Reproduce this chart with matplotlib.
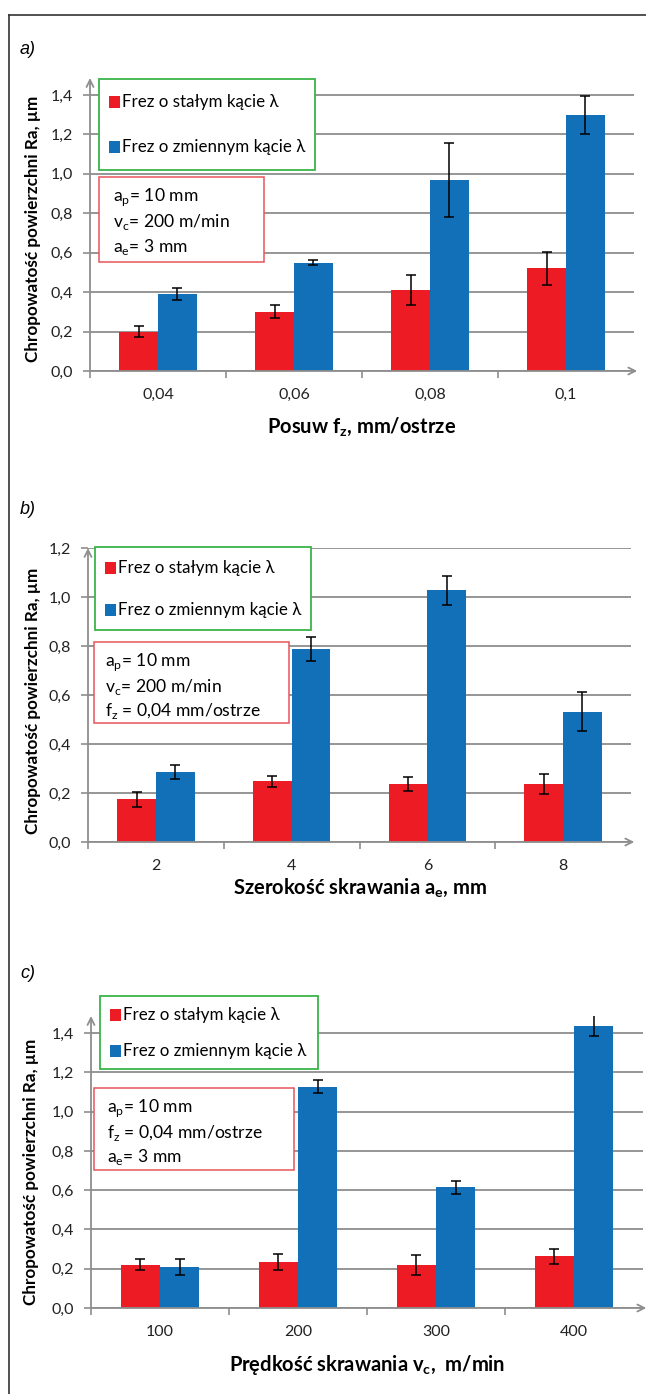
import numpy as np
import matplotlib
matplotlib.use("Agg")
import matplotlib.pyplot as plt
from matplotlib.patches import Rectangle
from matplotlib.lines import Line2D

plt.rcParams['font.family'] = ['Lato', 'DejaVu Sans']

# data
series_names = ['Frez o stałym kącie λ', 'Frez o zmiennym kącie λ']

a_cats = ['0,04', '0,06', '0,08', '0,1']
a_red = [0.20, 0.30, 0.41, 0.52]
a_red_err = [0.030, 0.033, 0.077, 0.082]
a_blue = [0.39, 0.55, 0.97, 1.30]
a_blue_err = [0.032, 0.014, 0.187, 0.096]

b_cats = ['2', '4', '6', '8']
b_red = [0.175, 0.247, 0.236, 0.236]
b_red_err = [0.031, 0.024, 0.029, 0.040]
b_blue = [0.286, 0.787, 1.027, 0.532]
b_blue_err = [0.029, 0.049, 0.060, 0.080]

c_cats = ['100', '200', '300', '400']
c_red = [0.221, 0.234, 0.221, 0.263]
c_red_err = [0.026, 0.041, 0.051, 0.039]
c_blue = [0.207, 1.127, 0.616, 1.437]
c_blue_err = [0.040, 0.032, 0.033, 0.053]

ylabel = 'Chropowatość powierzchni Ra, µm'
a_xlabel = r'Posuw f$_\mathregular{z}$, mm/ostrze'
b_xlabel = r'Szerokość skrawania a$_\mathregular{e}$, mm'
c_xlabel = r'Prędkość skrawania v$_\mathregular{c}$,  m/min'
a_note = [r'a$_\mathregular{p}$= 10 mm', r'v$_\mathregular{c}$= 200 m/min', r'a$_\mathregular{e}$= 3 mm']
b_note = [r'a$_\mathregular{p}$= 10 mm', r'v$_\mathregular{c}$= 200 m/min', r'f$_\mathregular{z}$ = 0,04 mm/ostrze']
c_note = [r'a$_\mathregular{p}$= 10 mm', r'f$_\mathregular{z}$ = 0,04 mm/ostrze', r'a$_\mathregular{e}$= 3 mm']

RED = '#ed1c24'
BLUE = '#1270b8'
GRID = '#8e8e8e'
GREEN = '#3cb44a'
NOTE = '#e8555b'

W, H = 646, 1394
fig = plt.figure(figsize=(W / 100, H / 100), dpi=100)


def fx(x):
    return x / W


def fy(y):
    return 1 - y / H


# frame round the whole figure
fig.add_artist(Line2D([fx(9), fx(646)], [fy(15), fy(15)], color='#333333', lw=1.2))
fig.add_artist(Line2D([fx(9), fx(9)], [fy(15), fy(1394)], color='#333333', lw=1.2))


def panel(tag, cats, red, red_err, blue, blue_err, xlabel, note, yticks_max, lay):
    left, right, top, bottom = lay['axes']
    ax = fig.add_axes([fx(left), fy(bottom), (right - left) / W, (bottom - top) / H])
    x = np.arange(len(cats))
    w = 0.285
    ekw = dict(ecolor='black', elinewidth=1.1, capsize=3.6, capthick=1.1)
    ax.bar(x - w / 2, red, w, yerr=red_err, color=RED, error_kw=ekw, zorder=2)
    ax.bar(x + w / 2, blue, w, yerr=blue_err, color=BLUE, error_kw=ekw, zorder=2)

    ax.set_xlim(-0.5, len(cats) - 0.5)
    ax.set_ylim(0, lay['ymax'])
    yt = np.arange(0, yticks_max + 0.001, 0.2)
    ax.set_yticks(yt, [f'{v:.1f}'.replace('.', ',') for v in yt])
    ax.set_xticks(x, cats)
    ax.set_xticks(np.arange(-0.5, len(cats) - 1), minor=True)
    ax.tick_params(axis='x', which='major', length=0, pad=12, labelsize=11.5, labelcolor='#222222')
    ax.tick_params(axis='x', which='minor', length=5, width=1.2, color=GRID)
    ax.tick_params(axis='y', length=5, width=1.2, color=GRID, pad=7, labelsize=11.5, labelcolor='#222222')
    ax.yaxis.grid(True, color=GRID, lw=1.3)
    ax.set_axisbelow(True)
    for s in ax.spines.values():
        s.set_visible(False)
    ap = dict(arrowstyle='->,head_length=0.5,head_width=0.25', color=GRID, lw=1.3, shrinkA=0, shrinkB=0)
    ax.annotate('', xy=(0, 1), xytext=(0, 0), xycoords='axes fraction', arrowprops=ap)
    ax.annotate('', xy=(1.006, 0), xytext=(0, 0), xycoords='axes fraction', arrowprops=ap)

    # texts
    fig.text(fx(20), fy(lay['tag_y']), tag, fontsize=13, style='italic',
             family=['Liberation Sans', 'DejaVu Sans'], va='center', ha='left')
    fig.text(fx(lay['ylab_x']), fy(lay['ylab_y']), ylabel, rotation=90, fontsize=12.3,
             fontweight='bold', ha='center', va='center')
    fig.text(fx((left + right) / 2), fy(lay['xlab_y']), xlabel, fontsize=14.5,
             fontweight='bold', ha='center', va='center')

    # legend box
    l0, l1, t0, t1 = lay['leg']
    fig.add_artist(Rectangle((fx(l0), fy(t1)), (l1 - l0) / W, (t1 - t0) / H,
                             transform=fig.transFigure, fc='white', ec=GREEN, lw=1.3, zorder=5))
    for name, col, yy in zip(series_names, [RED, BLUE], lay['leg_rows']):
        fig.add_artist(Rectangle((fx(l0 + 10), fy(yy + 6)), 11 / W, 12 / H,
                                 transform=fig.transFigure, fc=col, ec='none', zorder=6))
        fig.text(fx(l0 + 23), fy(yy), name, fontsize=12.2, va='center', ha='left', zorder=7)

    # parameters box
    n0, n1, u0, u1 = lay['note']
    fig.add_artist(Rectangle((fx(n0), fy(u1)), (n1 - n0) / W, (u1 - u0) / H,
                             transform=fig.transFigure, fc='white', ec=NOTE, lw=1.1, zorder=5))
    for line, yy in zip(note, lay['note_rows']):
        fig.text(fx(lay['note_x']), fy(yy), line, fontsize=12.6, va='center', ha='left', zorder=7)
    return ax


panel('a)', a_cats, a_red, a_red_err, a_blue, a_blue_err, a_xlabel, a_note, 1.4,
      dict(axes=(90, 634, 78, 371), ymax=1.486, tag_y=50, ylab_x=33, ylab_y=229, xlab_y=427,
           leg=(99, 315, 79, 170), leg_rows=(102, 147),
           note=(99, 264, 177, 262), note_x=113, note_rows=(197, 222, 247)))

panel('b)', b_cats, b_red, b_red_err, b_blue, b_blue_err, b_xlabel, b_note, 1.2,
      dict(axes=(88, 631, 548, 842), ymax=1.2, tag_y=510, ylab_x=33, ylab_y=701, xlab_y=888,
           leg=(95, 311, 547, 630), leg_rows=(568, 610),
           note=(94, 289, 642, 723), note_x=105, note_rows=(662, 687, 711)))

panel('c)', c_cats, c_red, c_red_err, c_blue, c_blue_err, c_xlabel, c_note, 1.4,
      dict(axes=(91, 643, 1016, 1308), ymax=1.487, tag_y=973, ylab_x=31, ylab_y=1172, xlab_y=1365,
           leg=(100, 318, 996, 1069), leg_rows=(1015, 1051),
           note=(94, 294, 1088, 1170), note_x=107, note_rows=(1108, 1133, 1157)))

fig.savefig('out.png', dpi=100)
